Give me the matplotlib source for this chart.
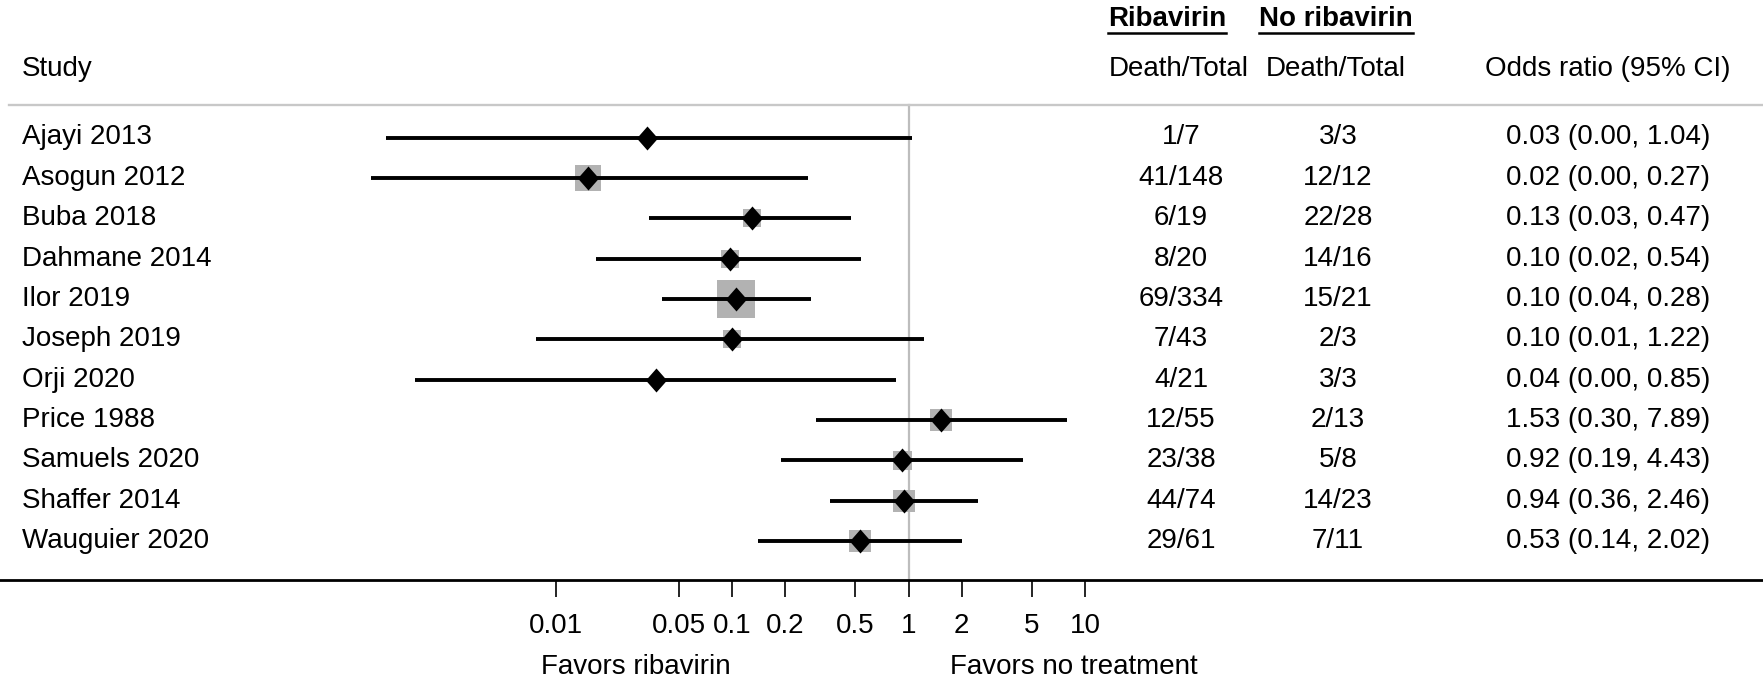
import matplotlib
matplotlib.use("Agg")
import matplotlib.pyplot as plt
import numpy as np
from matplotlib.lines import Line2D
from matplotlib.ticker import NullLocator
import matplotlib.transforms as mtransforms

plt.rcParams['font.family'] = ['Liberation Sans', 'DejaVu Sans']

# study data
studies = ['Ajayi 2013', 'Asogun 2012', 'Buba 2018', 'Dahmane 2014', 'Ilor 2019',
           'Joseph 2019', 'Orji 2020', 'Price 1988', 'Samuels 2020', 'Shaffer 2014',
           'Wauguier 2020']
rib_counts = ['1/7', '41/148', '6/19', '8/20', '69/334', '7/43', '4/21', '12/55',
              '23/38', '44/74', '29/61']
norib_counts = ['3/3', '12/12', '22/28', '14/16', '15/21', '2/3', '3/3', '2/13',
                '5/8', '14/23', '7/11']
or_est = [0.033, 0.0153, 0.13, 0.097, 0.105, 0.10, 0.037, 1.53, 0.92, 0.94, 0.53]
ci_lo = [0.0011, 0.0009, 0.034, 0.017, 0.040, 0.0078, 0.0016, 0.30, 0.19, 0.36, 0.14]
ci_hi = [1.04, 0.27, 0.47, 0.54, 0.28, 1.22, 0.85, 7.89, 4.43, 2.46, 2.02]
or_text = ['0.03 (0.00, 1.04)', '0.02 (0.00, 0.27)', '0.13 (0.03, 0.47)',
           '0.10 (0.02, 0.54)', '0.10 (0.04, 0.28)', '0.10 (0.01, 1.22)',
           '0.04 (0.00, 0.85)', '1.53 (0.30, 7.89)', '0.92 (0.19, 4.43)',
           '0.94 (0.36, 2.46)', '0.53 (0.14, 2.02)']
weights = [1.0, 14.5, 6.5, 6.5, 28.8, 6.5, 1.0, 8.8, 7.2, 10.5, 8.8]
tick_vals = [0.01, 0.05, 0.1, 0.2, 0.5, 1, 2, 5, 10]
tick_labels = ['0.01', '0.05', '0.1', '0.2', '0.5', '1', '2', '5', '10']

W, H = 1763, 679
fig = plt.figure(figsize=(W / 100, H / 100), dpi=100)
ax = fig.add_axes([0, 99 / H, 1, 580 / H])

# log x axis mapped so that 1 sits at ~908 px, one decade ~176.5 px
x1_px, dec_px = 908.5, 176.5
ax.set_xscale('log')
ax.set_xlim(10 ** (-x1_px / dec_px), 10 ** ((W - x1_px) / dec_px))
row0, row_h = 137.5, 40.35
ax.set_ylim((580 - row0) / row_h, -row0 / row_h)

fs = 20
y = np.arange(len(studies))
top_line = (104.5 - row0) / row_h

ax.axhline(top_line, xmin=0.005, xmax=1, color='#c8c8c8', lw=1.7)
ax.plot([1, 1], [top_line, ax.get_ylim()[0]], color='#bdbdbd', lw=1.6, zorder=1)

# weight boxes, CI lines, point estimates
side_px = 38 * np.sqrt(np.array(weights) / max(weights))
for i in range(len(studies)):
    ax.plot(or_est[i], y[i], marker='s', ms=side_px[i] * 0.72, color='#b2b2b2',
            mew=0, zorder=2)
ax.hlines(y, ci_lo, ci_hi, color='black', lw=2.8, capstyle='butt', zorder=3)
diamond = [(0, 1), (0.88, 0), (0, -1), (-0.88, 0), (0, 1)]
ax.plot(or_est, y, ls='none', marker=diamond, ms=24 * 0.72, color='black',
        mew=0, zorder=4)

# text columns
tr = mtransforms.blended_transform_factory(ax.transAxes, ax.transData)
for i in range(len(studies)):
    ax.text(22 / W, y[i], studies[i], transform=tr, ha='left', va='center', fontsize=fs)
    ax.text(1181 / W, y[i], rib_counts[i], transform=tr, ha='center', va='center', fontsize=fs)
    ax.text(1338 / W, y[i], norib_counts[i], transform=tr, ha='center', va='center', fontsize=fs)
    ax.text(1608 / W, y[i], or_text[i], transform=tr, ha='center', va='center', fontsize=fs)

hy = (69 - row0) / row_h
ax.text(22 / W, hy, 'Study', transform=tr, ha='left', va='center', fontsize=fs)
ax.text(1179 / W, hy, 'Death/Total', transform=tr, ha='center', va='center', fontsize=fs)
ax.text(1336 / W, hy, 'Death/Total', transform=tr, ha='center', va='center', fontsize=fs)
ax.text(1608 / W, hy, 'Odds ratio (95% CI)', transform=tr, ha='center', va='center', fontsize=fs)

gy = (19 - row0) / row_h
g1 = ax.text(1167 / W, gy, 'Ribavirin', transform=tr, ha='center', va='center',
             fontsize=fs, fontweight='bold')
g2 = ax.text(1336 / W, gy, 'No ribavirin', transform=tr, ha='center', va='center',
             fontsize=fs, fontweight='bold')

# axis styling
for s in ['left', 'top', 'right']:
    ax.spines[s].set_visible(False)
ax.spines['bottom'].set_linewidth(2.0)
ax.set_yticks([])
ax.xaxis.set_minor_locator(NullLocator())
ax.set_xticks(tick_vals)
ax.set_xticklabels(tick_labels, fontsize=fs)
ax.tick_params(axis='x', direction='out', length=12, width=1.2, pad=12)

fy = (667 - row0) / row_h
ax.text(636 / W, fy, 'Favors ribavirin', transform=tr, ha='center', va='center',
        fontsize=fs, clip_on=False)
ax.text(1074 / W, fy, 'Favors no treatment', transform=tr, ha='center', va='center',
        fontsize=fs, clip_on=False)

# underline the group headers
fig.canvas.draw()
rend = fig.canvas.get_renderer()
for t in (g1, g2):
    bb = t.get_window_extent(rend).transformed(fig.transFigure.inverted())
    fig.add_artist(Line2D([bb.x0, bb.x1], [bb.y0 - 1.0 / H, bb.y0 - 1.0 / H],
                          transform=fig.transFigure, color='black', lw=1.8))

fig.savefig('out.png', dpi=100)
